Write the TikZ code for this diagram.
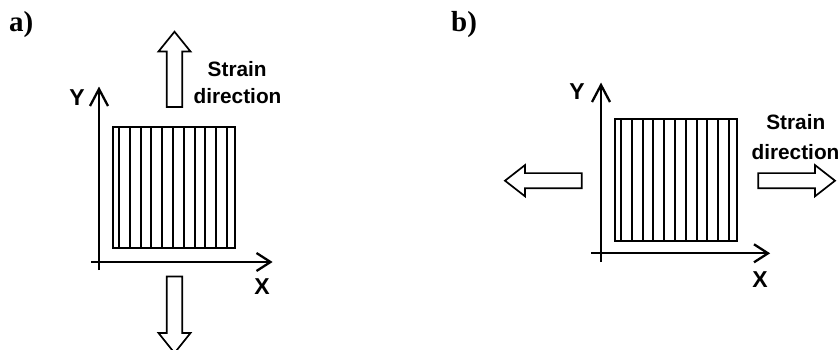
\documentclass[tikz,border=0pt]{standalone}
\usepackage{fontspec}
\newfontfamily\labelsans{Liberation Sans}
\newfontfamily\tagserif{Liberation Serif}
\begin{document}
\begin{tikzpicture}[x=1pt,y=-1pt,
  axis/.style={line width=2.3pt},
  barb/.style={line width=2.3pt, line join=miter},
  blockarrow/.style={draw, line width=1.7pt, fill=white, line join=miter},
  filmbox/.style={draw, line width=2pt, minimum width=122pt, minimum height=121pt, inner sep=0pt, outer sep=0pt},
  stripe/.style={line width=2pt},
  axlabel/.style={font=\labelsans\bfseries\fontsize{23}{26}\selectfont, inner sep=0pt},
  strain/.style={font=\labelsans\bfseries\fontsize{20.8}{25}\selectfont, inner sep=0pt, anchor=base},
  paneltag/.style={font=\tagserif\bfseries\fontsize{29}{32}\selectfont, inner sep=0pt, anchor=base west}]
\useasboundingbox (0,0) rectangle (840,350);

% ---------- panel a: strain along Y ----------
\node[paneltag] (taga) at (9,32) {a)};

% axes
\coordinate (ayb) at (99,270);
\coordinate (ayt) at (99,89);
\coordinate (axl) at (91,262);
\coordinate (axr) at (270.5,262);
\draw[axis] (ayb) -- (ayt);
\draw[barb] (ayt) ++(-9,17) -- (ayt) -- ++(9,17);
\draw[axis] (axl) -- (axr);
\draw[barb] (axr) ++(-14,-9) -- (axr) -- ++(-14,9);
\node[axlabel] (ya) at (77,98) {Y};
\node[axlabel] (xa) at (262,287) {X};

% striped film
\node[filmbox] (filma) at (174,187.5) {};
\foreach \d in {6,17,28,38,49,60,71,82,92,103,114}
  \draw[stripe] ([xshift=\d pt]filma.north west) -- ([xshift=\d pt]filma.south west);

% strain arrows (up and down)
\coordinate (upa) at (174.5,107);
\draw[blockarrow] (upa) ++(-7.8,0) -- ++(0,-55.5) -- ++(-8.2,0) -- ++(16,-19.8)
  -- ++(16,19.8) -- ++(-8.2,0) -- ++(0,55.5) -- cycle;
\coordinate (dna) at (174.5,276.5);
\draw[blockarrow] (dna) ++(-7.8,0) -- ++(0,56.5) -- ++(-8.2,0) -- ++(16,20)
  -- ++(16,-20) -- ++(-8.2,0) -- ++(0,-56.5) -- cycle;

\node[strain] (sa1) at (237.2,77) {Strain};
\node[strain] (sa2) at (237.5,103.5) {direction};

% ---------- panel b: strain along X ----------
\node[paneltag] (tagb) at (451,32) {b)};

% axes
\coordinate (byb) at (601,262);
\coordinate (byt) at (601,85);
\coordinate (bxl) at (591,253.3);
\coordinate (bxr) at (768,253.3);
\draw[axis] (byb) -- (byt);
\draw[barb] (byt) ++(-9,17) -- (byt) -- ++(9,17);
\draw[axis] (bxl) -- (bxr);
\draw[barb] (bxr) ++(-14,-9) -- (bxr) -- ++(-14,9);
\node[axlabel] (yb) at (577,92) {Y};
\node[axlabel] (xb) at (760,280) {X};

% striped film
\node[filmbox] (filmb) at (676,180) {};
\foreach \d in {6,17,28,38,49,60,71,82,92,103,114}
  \draw[stripe] ([xshift=\d pt]filmb.north west) -- ([xshift=\d pt]filmb.south west);

% strain arrows (left and right)
\coordinate (lfb) at (581.7,180.7);
\draw[blockarrow] (lfb) ++(0,-7.6) -- ++(-56.7,0) -- ++(0,-8) -- ++(-20,15.6)
  -- ++(20,15.6) -- ++(0,-8) -- ++(56.7,0) -- cycle;
\coordinate (rtb) at (758.3,180.7);
\draw[blockarrow] (rtb) ++(0,-7.6) -- ++(56.7,0) -- ++(0,-8) -- ++(20,15.6)
  -- ++(-20,15.6) -- ++(0,-8) -- ++(-56.7,0) -- cycle;

\node[strain] (sb1) at (795.8,129) {Strain};
\node[strain] (sb2) at (795.5,159) {direction};
\end{tikzpicture}
\end{document}
